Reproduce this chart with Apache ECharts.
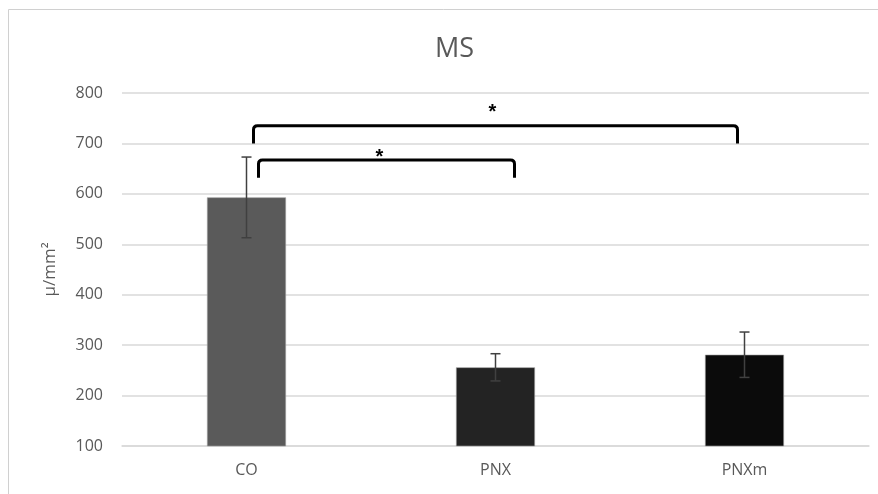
<!DOCTYPE html>
<html><head><meta charset="utf-8">
<script src="https://cdn.jsdelivr.net/npm/echarts@6/dist/echarts.min.js"></script>
<style>html,body{margin:0;padding:0;background:#fff}#c{width:878px;height:494px}</style>
</head><body><div id="c"></div>
<script>
const categories = ['CO', 'PNX', 'PNXm'];
const means = [593, 256, 281];
const errors = [80, 27, 45];
const barColors = ['#5a5a5a', '#232323', '#0b0b0b'];
const yTicks = [100, 200, 300, 400, 500, 600, 700, 800];
// significance brackets: [fromCategory, toCategory, topValue, legBottomValue]
const bracketFrom = [0, 0];
const bracketTo = [2, 1];
const bracketTop = [735, 667];
const bracketLeg = [700, 632];
const bracketLabel = ['*', '*'];
const bracketLabelValue = [772, 683];

const chart = echarts.init(document.getElementById('c'));
const font = '"Open Sans", "Liberation Sans", sans-serif';
const errData = categories.map((c, i) => [i, means[i] - errors[i], means[i] + errors[i]]);
const brData = bracketFrom.map((f, i) => [f, bracketTo[i], bracketTop[i], bracketLeg[i], bracketLabelValue[i]]);
const brOffsets = [[7, -7, -3], [12, 19, -7]];

chart.setOption({
  animation: false,
  backgroundColor: '#fff',
  title: {
    text: 'MS', left: 430, top: 31,
    textStyle: { color: '#595959', fontSize: 27, fontWeight: 'normal', fontFamily: font }
  },
  graphic: [{
    type: 'rect', shape: { x: 8.5, y: 9.5, width: 900, height: 520 },
    style: { fill: 'none', stroke: '#d0d0d0', lineWidth: 1 }, silent: true, z: -1
  }],
  grid: { left: 122, right: 9, top: 93, bottom: 48 },
  xAxis: {
    type: 'category', data: categories,
    axisLine: { lineStyle: { color: '#d9d9d9', width: 1.5 } },
    axisTick: { show: false },
    axisLabel: { color: '#595959', fontSize: 16, fontFamily: font, margin: 16 }
  },
  yAxis: {
    type: 'value', min: yTicks[0], max: yTicks[yTicks.length - 1], interval: 100,
    name: 'µ/mm²', nameLocation: 'middle', nameGap: 63, nameRotate: 90,
    nameTextStyle: { color: '#595959', fontSize: 17, fontFamily: font },
    axisLine: { show: false }, axisTick: { show: false },
    axisLabel: { color: '#595959', fontSize: 16, fontFamily: font, margin: 19 },
    splitLine: { lineStyle: { color: '#d9d9d9', width: 1.5 } }
  },
  series: [
    {
      type: 'bar', barWidth: '31.7%',
      data: means.map((v, i) => ({ value: v, itemStyle: { color: barColors[i], borderColor: '#9a9a9a', borderWidth: 0.6 } })),
      z: 2
    },
    {
      type: 'custom', data: errData, z: 3,
      renderItem: function (params, api) {
        const x = api.coord([api.value(0), 0])[0];
        const lo = api.coord([api.value(0), api.value(1)])[1];
        const hi = api.coord([api.value(0), api.value(2)])[1];
        const w = 5;
        const st = { stroke: '#404040', lineWidth: 1.5, fill: 'none' };
        return { type: 'group', children: [
          { type: 'line', shape: { x1: x, y1: lo, x2: x, y2: hi }, style: st },
          { type: 'line', shape: { x1: x - w, y1: lo, x2: x + w, y2: lo }, style: st },
          { type: 'line', shape: { x1: x - w, y1: hi, x2: x + w, y2: hi }, style: st }
        ] };
      }
    },
    {
      type: 'custom', data: brData, z: 4,
      renderItem: function (params, api) {
        const off = brOffsets[params.dataIndex];
        const x1 = api.coord([api.value(0), 0])[0] + off[0];
        const x2 = api.coord([api.value(1), 0])[0] + off[1];
        const yt = api.coord([0, api.value(2)])[1];
        const yb = api.coord([0, api.value(3)])[1];
        const yl = api.coord([0, api.value(4)])[1];
        const r = 4;
        const p = 'M' + x1 + ' ' + yb + ' L' + x1 + ' ' + (yt + r) + ' Q' + x1 + ' ' + yt + ' ' + (x1 + r) + ' ' + yt +
          ' L' + (x2 - r) + ' ' + yt + ' Q' + x2 + ' ' + yt + ' ' + x2 + ' ' + (yt + r) + ' L' + x2 + ' ' + yb;
        return { type: 'group', children: [
          { type: 'path', shape: { pathData: p }, style: { stroke: '#000', lineWidth: 3, fill: 'none', lineCap: 'butt', lineJoin: 'round' } },
          { type: 'text', style: { text: bracketLabel[params.dataIndex], x: (x1 + x2) / 2 + off[2], y: yl + 5,
            align: 'center', verticalAlign: 'middle', fill: '#000', font: 'bold 20px "Liberation Sans", sans-serif' } }
        ] };
      }
    }
  ]
});
</script></body></html>
